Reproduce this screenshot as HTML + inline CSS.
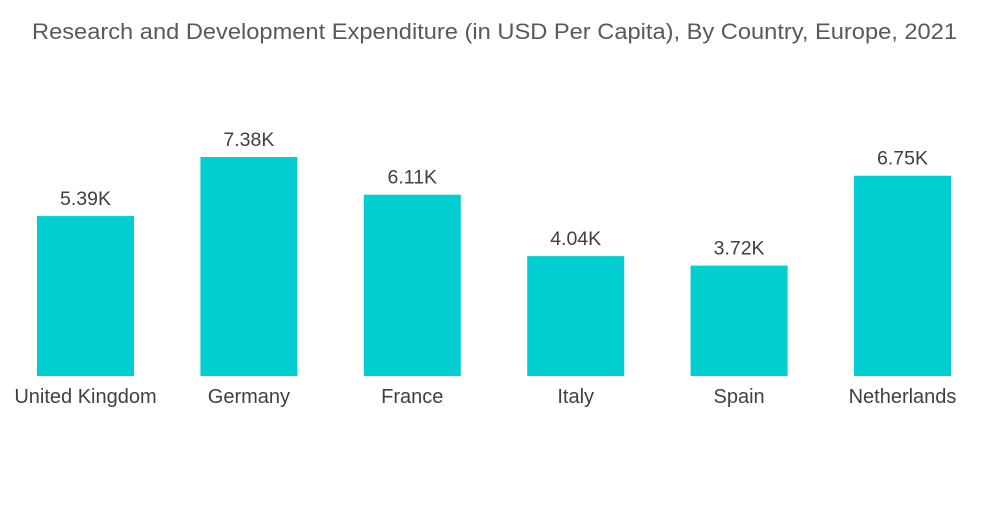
<!DOCTYPE html>
<html><head><meta charset="utf-8"><style>
body{margin:0;background:#fff;}
svg text{font-family:"Liberation Sans",sans-serif;}
</style></head><body>
<svg id="chart" width="1000" height="504" viewBox="0 0 1000 504" xmlns="http://www.w3.org/2000/svg">
<text x="32" y="39" textLength="925" lengthAdjust="spacingAndGlyphs" font-size="22" fill="#595959">Research and Development Expenditure (in USD Per Capita), By Country, Europe, 2021</text>
<g id="bars"></g>
</svg>
<script>
const categories = ["United Kingdom","Germany","France","Italy","Spain","Netherlands"];
const values = [5.39,7.38,6.11,4.04,3.72,6.75];
const valueLabels = ["5.39K","7.38K","6.11K","4.04K","3.72K","6.75K"];
const baseY = 376, pxPerUnit = 29.67, firstCenter = 85.5, step = 163.4, barW = 97;
const xC = i => firstCenter + i * step;
const yV = v => baseY - v * pxPerUnit;
const g = document.getElementById('bars');
const NS = "http://www.w3.org/2000/svg";
categories.forEach((c, i) => {
  const r = document.createElementNS(NS, 'rect');
  
  
  r.setAttribute('x', xC(i) - barW / 2);
  r.setAttribute('y', yV(values[i]));
  r.setAttribute('width', barW);
  r.setAttribute('height', baseY - yV(values[i]));
  r.setAttribute('fill', '#00CED1');
  g.appendChild(r);
  const t = document.createElementNS(NS, 'text');
  
  
  t.setAttribute('x', xC(i));
  t.setAttribute('y', yV(values[i]) - 11);
  t.setAttribute('text-anchor', 'middle');
  t.setAttribute('font-size', '19.5');
  t.setAttribute('fill', '#404040');
  t.textContent = valueLabels[i];
  g.appendChild(t);
  const l = document.createElementNS(NS, 'text');
  
  
  l.setAttribute('x', xC(i));
  l.setAttribute('y', 403);
  l.setAttribute('text-anchor', 'middle');
  l.setAttribute('font-size', '20');
  l.setAttribute('fill', '#404040');
  l.textContent = c;
  g.appendChild(l);
});
</script>
</body></html>
